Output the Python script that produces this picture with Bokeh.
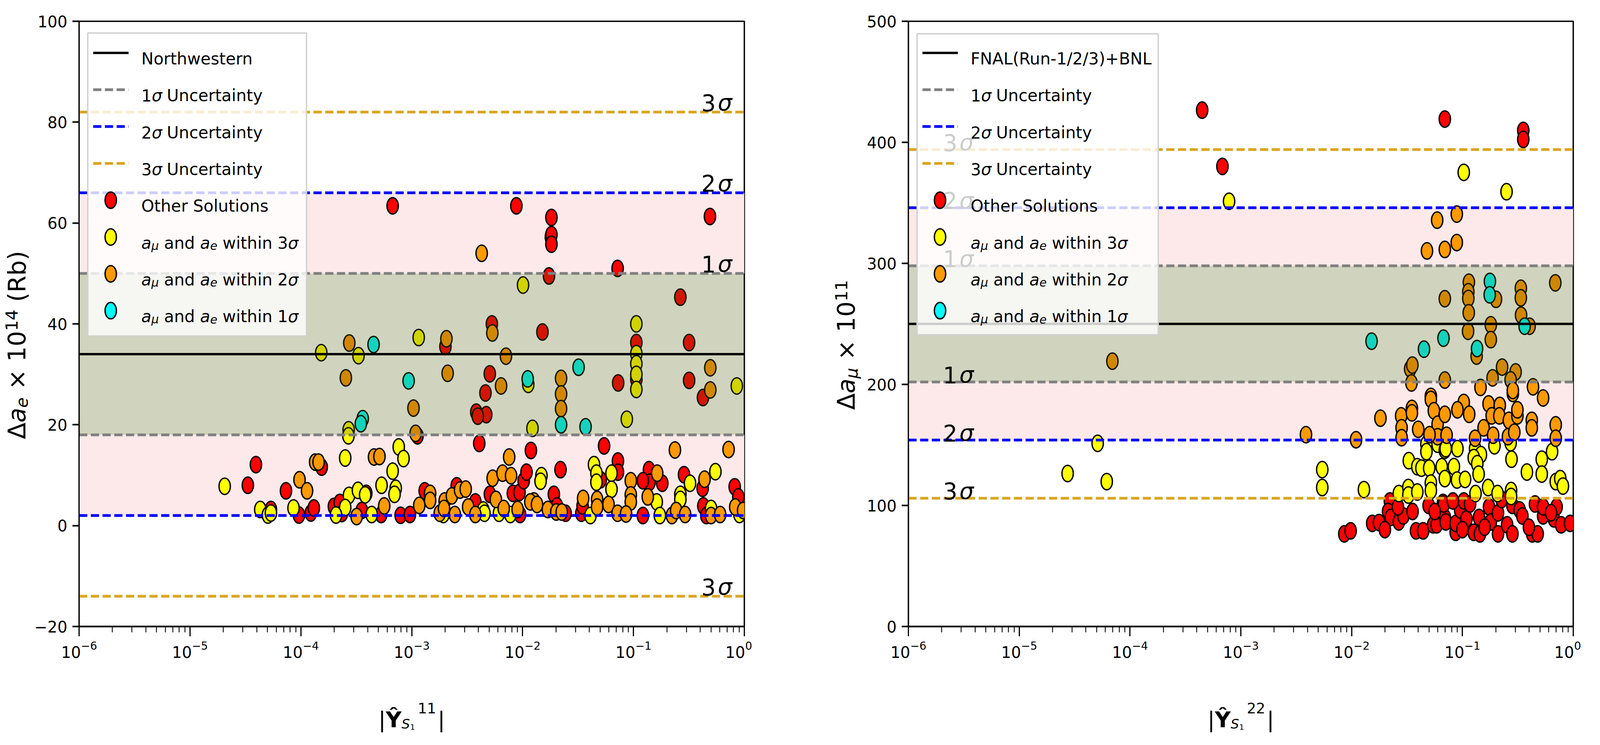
import math
from bokeh.plotting import figure
from bokeh.models import Range1d, FixedTicker, LogTickFormatter, Label
from bokeh.layouts import row, column
from bokeh.embed import file_html
from bokeh.resources import INLINE
from bokeh.core.properties import value

FONT = "DejaVu Sans"
SX = 4096 / 5917  # the photographed page is 4096 css px wide; heights are kept as in the reference

# ------------------------------------------------------------------ data
X_MIN, X_MAX = 1e-6, 1.0

# left panel: Northwestern Delta a_e (x 10^14), centre and 1 sigma
AE_CENTER, AE_SIGMA = 34.0, 16.0
# right panel: FNAL+BNL Delta a_mu (x 10^11), centre and 1 sigma
AMU_CENTER, AMU_SIGMA = 250.0, 48.0

# |Y^11| given as log10 values, Delta a_e values
L_red_lx = [-4.405, -4.478, -4.27, -4.134, -4.017, -3.910, -3.883, -3.812, -3.702, -3.649, -3.41, -3.63, -3.45,
            -3.172, -2.056, -1.74, -1.745, -1.74, -1.74, -1.762, -2.696, -2.948, -2.277, -2.296, -2.335, -2.418,
            -2.328, -2.404, -1.821, -2.391, -3.275, -3.1, -3.016, -2.883, -2.594, -2.426, -2.295, -2.088, -2.028,
            -1.99, -1.965, -1.925, -2.023, -1.718, -1.69, -1.658,
            -0.31, -1.143, -0.577, -0.498, -0.498, -1.138, -0.974, -0.974, -0.373, -1.265, -1.14, -1.14, -1.296,
            -1.47, -1.459, -1.612, -0.86, -0.855, -0.74, -0.915, -0.915, -0.544, -0.376, -0.37, -0.343, -0.087, -0.054]
L_red_y = [12.1, 8.0, 3.2, 6.9, 2.1, 2.5, 3.5, 11.6, 3.8, 4.6, 6.4, 2.4, 3.0,
           63.4, 63.4, 61.1, 57.2, 57.7, 55.8, 49.5, 35.5, 17.8, 40.0, 30.1, 26.3, 22.5,
           22.0, 21.7, 38.4, 16.3, 2.2, 2.05, 2.2, 6.9, 7.9, 4.7, 6.2, 6.4, 6.6,
           8.9, 10.6, 14.9, 2.2, 6.2, 3.9, 11.1,
           61.3, 51.0, 45.3, 36.3, 28.8, 28.3, 36.3, 29.0, 25.4, 15.8, 12.8, 10.6, 9.1,
           2.45, 3.9, 2.45, 11.1, 8.6, 8.4, 8.9, 2.0, 10.1, 7.4, 3.9, 2.0, 7.7, 5.7]

L_yel_lx = [-4.687, -4.366, -4.297, -4.27, -4.066, -3.816, -3.48, -3.569, -3.571, -3.6, -3.566, -3.485, -3.42,
            -3.6, -3.683, -3.361,
            -1.996, -2.937, -1.949, -1.911, -3.117, -3.074, -3.172, -3.272, -3.144, -3.155, -2.714, -2.355,
            -2.344, -2.17, -2.213, -2.11, -1.83, -1.838,
            -0.974, -0.974, -0.974, -0.974, -0.974, -1.06, -0.068, -1.356, -1.334, -1.334, -1.198, -1.198,
            -1.388, -0.79, -0.762, -0.577, -0.577, -0.49, -0.261, -0.3, -0.044]
L_yel_y = [7.8, 3.2, 2.1, 2.5, 3.5, 34.3, 33.7, 19.0, 17.8, 13.4, 6.0, 7.0, 6.1,
           3.6, 2.1, 2.2,
           47.7, 37.3, 28.0, 19.3, 15.6, 13.3, 10.8, 8.0, 7.4, 6.2, 2.2, 3.1,
           2.45, 3.2, 2.45, 2.2, 9.9, 8.8,
           40.0, 34.1, 32.1, 30.0, 27.0, 21.1, 27.7, 12.1, 10.4, 8.6, 10.4, 7.2,
           2.0, 4.7, 2.0, 6.2, 5.2, 8.4, 10.7, 3.4, 2.2]

L_org_lx = [-4.012, -3.944, -3.871, -3.84, -3.563, -3.594, -3.34, -3.497,
            -2.369, -2.687, -2.676, -2.984, -2.965, -2.273, -2.15, -2.194, -1.653, -1.653, -1.653, -3.291,
            -3.248, -2.932, -2.834, -2.834, -2.747, -2.703, -2.709, -2.638, -2.564, -2.513, -2.611, -2.491,
            -2.426, -2.241, -2.27, -2.181, -2.121, -2.104, -2.17, -2.045, -1.898, -1.93, -1.87, -1.772,
            -1.696, -1.647,
            -0.307, -0.307, -1.328, -1.328, -1.225, -1.454, -1.024, -1.024, -1.024, -1.143, -1.067, -0.786,
            -0.871, -0.653, -0.615, -0.534, -0.626, -0.359, -0.3, -0.218, -0.142, -0.082, -0.011]
L_org_y = [9.1, 6.9, 12.6, 12.6, 36.2, 29.3, 13.6, 1.8,
           54.0, 37.05, 30.2, 23.3, 18.3, 38.2, 33.6, 27.7, 29.2, 26.1, 23.2, 13.7,
           3.9, 4.0, 6.4, 5.0, 2.45, 4.9, 3.4, 5.9, 7.05, 7.25, 2.2, 3.7,
           2.2, 5.2, 9.4, 10.4, 13.6, 9.9, 3.4, 3.2, 4.9, 4.7, 4.2, 3.2,
           2.7, 2.7,
           31.3, 26.9, 5.2, 3.7, 4.2, 5.4, 8.9, 6.1, 4.7, 2.45, 2.3, 10.4,
           5.7, 2.0, 3.0, 2.2, 15.0, 9.2, 2.0, 2.2, 15.1, 3.7, 3.0]

L_cyn_lx = [-3.344, -3.442, -3.459, -3.028, -1.954, -1.653, -1.495, -1.432]
L_cyn_y = [35.9, 21.2, 20.2, 28.7, 29.1, 20.0, 31.4, 19.6]

# |Y^22| given as log10 values, Delta a_mu values
R_red_lx = [-3.349, -3.166, -1.159, -0.451, -0.451,
            -2.066, -2.009, -1.814, -1.753, -1.655, -1.671, -1.647, -1.574, -1.533, -1.582, -1.419, -1.354,
            -1.305, -1.264, -1.232, -1.175, -1.159,
            -1.167, -1.151, -1.061, -1.061, -1.021, -0.964, -0.988, -0.898, -0.85, -0.842, -0.76, -0.744,
            -0.679, -0.679, -0.597, -0.549, -0.549, -0.484, -0.459, -0.37, -0.321, -0.345, -0.272, -0.272,
            -0.174, -0.15, -0.109, -0.028, -1.086, -0.931, -0.646,
            -1.45, -1.7, -0.8, -0.4, -0.2, -1.25, -1.0]
R_red_y = [426.6, 380.1, 419.2, 409.8, 402.4,
           76.5, 79.0, 85.2, 85.9, 103.7, 95.0, 90.1, 86.4, 91.3, 98.8, 79.0, 79.0,
           100.0, 84.0, 84.0, 102.5, 90.1,
           101.2, 86.4, 77.8, 85.2, 96.3, 88.9, 103.7, 77.8, 90.1, 76.5, 98.8, 86.4,
           76.5, 93.8, 84.0, 76.5, 100.0, 96.3, 91.3, 76.5, 76.5, 101.2, 91.3, 98.8,
           88.9, 98.8, 84.0, 85.2, 103.7, 101.2, 104.9,
           95.0, 80.0, 82.0, 82.0, 94.0, 95.0, 80.0]

R_yel_lx = [-3.106, -4.292, -4.563, -4.21, -2.265, -2.265, -1.889, -1.484, -1.407, -1.37, -1.325, -1.325,
            -1.3, -1.285, -1.285, -1.224, -1.187, -1.159, -1.159, -1.574, -1.488, -1.488, -1.407,
            -0.988, -0.602, -1.151, -1.045, -1.077, -1.049, -0.976, -0.886, -0.833, -0.898, -0.866, -0.854,
            -0.882, -0.768, -0.711, -0.565, -0.557, -0.683, -0.561, -0.561, -0.418, -0.284, -0.284, -0.191,
            -0.158, -0.117, -0.093]
R_yel_y = [351.3, 151.3, 126.4, 119.7, 129.6, 114.8, 113.1, 137.0, 132.0, 130.8, 150.6, 144.4,
           130.8, 118.5, 112.3, 150.6, 132.0, 122.2, 145.6, 109.8, 114.8, 108.6, 111.1,
           375.2, 359.2, 146.9, 146.9, 132.1, 121.0, 121.5, 146.9, 142.0, 139.5, 134.5, 125.9,
           109.8, 114.8, 149.3, 151.8, 138.2, 109.8, 112.3, 107.4, 127.6, 138.2, 125.9, 144.4,
           119.7, 122.2, 116.0]

R_org_lx = [-4.159, -2.412, -1.96, -1.228, -1.32, -1.159, -1.159, -1.472, -1.452, -1.46, -1.159, -1.74,
            -1.553, -1.549, -1.549, -1.456, -1.456, -1.399, -1.285, -1.285, -1.258, -1.224, -1.224, -1.297,
            -1.159,
            -1.051, -1.051, -0.942, -0.947, -0.947, -0.943, -0.949, -0.697, -0.744, -0.744, -0.872, -0.473,
            -0.473, -0.471, -0.394, -0.162, -0.642, -0.52, -0.565, -0.728, -0.837, -0.545, -0.545, -0.363,
            -0.272, -0.988, -1.045, -0.939, -0.764, -0.663, -0.736, -0.667, -0.581, -0.504, -0.504, -0.374,
            -0.374, -0.158, -0.158, -0.809, -0.723, -0.886, -0.589, -0.532, -1.143]
R_org_y = [219.2, 158.5, 154.3, 335.7, 310.3, 311.5, 270.8, 212.8, 216.0, 201.2, 203.6, 172.1,
           174.0, 164.2, 156.0, 180.2, 176.5, 162.9, 190.1, 187.6, 178.2, 167.1, 156.8, 158.5,
           175.3,
           340.7, 317.2, 284.4, 276.5, 271.0, 259.2, 243.9, 270.3, 249.3, 237.0, 223.4, 279.4,
           271.5, 257.2, 248.1, 283.9, 214.3, 210.3, 203.7, 205.4, 197.5, 192.5, 195.0, 198.0,
           188.8, 185.1, 179.0, 175.3, 183.9, 182.7, 174.0, 174.0, 170.3, 174.0, 179.0, 170.3,
           164.1, 166.6, 155.5, 164.1, 158.0, 155.5, 156.8, 160.5, 158.0]

R_cyn_lx = [-1.82, -1.347, -1.171, -0.752, -0.754, -0.868, -0.439]
R_cyn_y = [235.7, 229.1, 238.2, 285.1, 274.0, 229.6, 248.1]

X_TICKS = [1e-6, 1e-5, 1e-4, 1e-3, 1e-2, 1e-1, 1.0]
L_Y_TICKS = [-20, 0, 20, 40, 60, 80, 100]
R_Y_TICKS = [0, 100, 200, 300, 400, 500]

# ------------------------------------------------------------------ styling / geometry (css px)
C_RED, C_YEL, C_ORG, C_CYN = "#ff0000", "#ffff00", "#ff9900", "#00ffff"
C_1S, C_2S, C_3S = "#808080", "#0000ff", "#daa520"
DASH = "21 9"
LW = 7

FRAME_H = 1550
FW1, FW2 = round(2460 * SX), round(2458 * SX)
B_LEFT, B_RIGHT, B_TOP, B_BOTTOM = 118, 20, 54, 110
FIG_H = B_TOP + FRAME_H + B_BOTTOM
W_Y1 = round(303 * SX) - 8 - B_LEFT
X_START2 = 8 + W_Y1 + B_LEFT + FW1 + B_RIGHT
W_Y2 = round(3370 * SX) - X_START2 - B_LEFT
XL_H = 1900 - 8 - FIG_H
MW, MH, MLW = 29, 42, 3.5  # marker ellipse size (screen px) and outline

CW = {' ': 0.318, 'N': 0.748, 'o': 0.612, 'r': 0.411, 't': 0.392, 'h': 0.634, 'w': 0.818, 'e': 0.615,
      's': 0.521, 'n': 0.634, 'U': 0.732, 'c': 0.550, 'a': 0.613, 'i': 0.278, 'y': 0.592, 'O': 0.787,
      'l': 0.278, 'u': 0.634, 'S': 0.635, 'd': 0.635, 'μ': 0.636, 'σ': 0.602, 'F': 0.575, 'A': 0.684,
      'L': 0.557, 'R': 0.695, 'B': 0.686, '(': 0.390, ')': 0.390, '-': 0.361, '/': 0.337, '+': 0.838,
      'Δ': 0.684, '×': 0.838, 'b': 0.635, '|': 0.337, 'Ŷ': 0.611}


def text_w(s, size, style):
    if style == "bold" and s == "Ŷ":
        return 0.724 * size
    return sum(CW.get(c, 0.636) for c in s) * size


def seg_total(segs):
    return sum(g + text_w(t, s, st) for t, s, st, dy, g in segs)


def place(segs, x0, y0):
    pos = 0.0
    for text, size, style, dy, gap in segs:
        pos += gap
        lead = (len(text) - len(text.lstrip(' '))) * CW[' '] * size
        t = text.strip(' ')
        yield t, size, style, x0 + pos + lead, y0 + dy, text_w(t, size, style)
        pos += text_w(text, size, style)


def rich_labels(p, x0, y0, segs):
    for t, size, style, lx, ly, w in place(segs, x0, y0):
        p.add_layout(Label(x=lx, y=ly, x_units="screen", y_units="screen", text=t,
                           text_font=FONT, text_font_size=f"{size:.1f}px", text_font_style=style,
                           text_baseline="alphabetic", text_align="left", text_color="black"))


def rich_glyphs(p, x0, y0, segs):
    for t, size, style, lx, ly, w in place(segs, x0, y0):
        p.text(x=[lx], y=[ly], text=[t], text_font=value(FONT), text_font_size=f"{size:.1f}px",
               text_font_style=style, text_baseline="alphabetic", text_align="left",
               text_color="black")


def rich_glyphs_up(p, x_center, y0, segs, main_size):
    """text reading bottom-to-top; x_center is the middle line of the main-size text."""
    x_base = x_center + 0.30 * main_size
    for t, size, style, a, dy, w in place(segs, 0.0, 0.0):
        cx = x_base - dy - 0.30 * size
        cy = y0 + a + w / 2
        p.text(x=[cx], y=[cy], text=[t], text_font=value(FONT), text_font_size=f"{size:.1f}px",
               text_font_style=style, text_baseline="middle", text_align="center",
               angle=math.pi / 2, text_color="black")


def blank_fig(w, h):
    f = figure(frame_width=w, frame_height=h, x_range=Range1d(0, w), y_range=Range1d(0, h),
               min_border=0, x_axis_location=None, y_axis_location=None,
               toolbar_location=None, output_backend="svg")
    f.grid.visible = False
    f.outline_line_color = None
    f.background_fill_color = "white"
    f.border_fill_color = "white"
    return f


def make_panel(frame_w, y_lo, y_hi, y_ticks, center, sigma, groups, legend_top_label,
               legend_box, sig_x, sig_levels, sig_dy):
    p = figure(frame_width=frame_w, frame_height=FRAME_H, x_axis_type="log",
               x_range=Range1d(X_MIN, X_MAX), y_range=Range1d(y_lo, y_hi),
               min_border_left=B_LEFT, min_border_right=B_RIGHT, min_border_top=B_TOP,
               min_border_bottom=B_BOTTOM, output_backend="svg", toolbar_location=None)
    p.grid.visible = False
    p.background_fill_color = "white"
    p.border_fill_color = "white"
    p.outline_line_color = "black"
    p.outline_line_width = 3.5

    minor = [k * d for d in X_TICKS[:-1] for k in range(2, 10)]
    p.xaxis.ticker = FixedTicker(ticks=X_TICKS, minor_ticks=minor)
    p.xaxis.formatter = LogTickFormatter()
    p.yaxis.ticker = FixedTicker(ticks=y_ticks)
    for ax in (p.xaxis[0], p.yaxis[0]):
        ax.major_label_text_font = FONT
        ax.major_label_text_font_size = "40px"
        ax.major_label_text_color = "black"
        ax.major_tick_in = 0
        ax.minor_tick_in = 0
        ax.axis_label = None
    xa, ya = p.xaxis[0], p.yaxis[0]
    xa.axis_line_width = 4
    xa.major_tick_line_width = 3
    xa.minor_tick_line_width = 2.2
    xa.major_tick_out = 25
    xa.minor_tick_out = 15
    xa.major_label_standoff = 12
    ya.axis_line_width = 3
    ya.major_tick_line_width = 4
    ya.major_tick_out = 17
    ya.major_label_standoff = 13
    ya.minor_tick_line_color = None

    # pink 2 sigma strips (outside the 1 sigma band)
    p.quad(left=X_MIN, right=X_MAX, bottom=[center - 2 * sigma, center + sigma],
           top=[center - sigma, center + 2 * sigma], fill_color="#fde9e9", line_alpha=0)

    for (lx, ys, col) in groups:
        p.ellipse(x=[10 ** v for v in lx], y=ys, width=MW, height=MH, width_units="screen",
                  height_units="screen", fill_color=col, line_color="black", line_width=MLW)

    # 1 sigma band drawn over the points
    p.quad(left=X_MIN, right=X_MAX, bottom=center - sigma, top=center + sigma,
           fill_color="#4a5600", fill_alpha=0.26, line_alpha=0)

    for k, col in ((1, C_1S), (2, C_2S), (3, C_3S)):
        p.multi_line(xs=[[X_MIN, X_MAX], [X_MIN, X_MAX]],
                     ys=[[center - k * sigma] * 2, [center + k * sigma] * 2],
                     line_color=col, line_width=LW, line_dash=DASH)
    p.line(x=[X_MIN, X_MAX], y=[center, center], line_color="black", line_width=6)

    # sigma labels
    sx = [sig_x] * len(sig_levels)
    sy = [center + k * sigma for k in sig_levels]
    p.text(x=sx, y=sy, text=[str(abs(k)) for k in sig_levels], text_font=value(FONT),
           text_font_size="58px", text_baseline="alphabetic", text_align="left",
           y_offset=sig_dy, text_color="black")
    p.text(x=sx, y=sy, text=["σ"] * len(sig_levels), text_font=value(FONT),
           text_font_size="58px", text_font_style="italic", text_baseline="alphabetic",
           text_align="left", x_offset=42, y_offset=sig_dy, text_color="black")

    # ---- legend (box drawn over the data, texts as labels on top)
    def gx(px):  # frame pixel (reference units) -> data x
        return 10 ** (math.log10(X_MIN) + (math.log10(X_MAX) - math.log10(X_MIN)) * px * SX / frame_w)

    def gy(py):  # frame pixel from top -> data y
        return y_hi - (y_hi - y_lo) * py / FRAME_H

    bl, bt, br, bb = legend_box
    p.quad(left=gx(bl), right=gx(br), top=gy(bt), bottom=gy(bb), fill_color="white",
           fill_alpha=0.8, line_color="#d0d0d0", line_width=3.5)
    rows_c = [81 + 94.3 * i for i in range(8)]
    p.line(x=[gx(52), gx(183)], y=[gy(rows_c[0])] * 2, line_color="black", line_width=6)
    for i, col in ((1, C_1S), (2, C_2S), (3, C_3S)):
        p.line(x=[gx(52), gx(183)], y=[gy(rows_c[i])] * 2, line_color=col, line_width=LW,
               line_dash=DASH)
    for i, col in ((4, C_RED), (5, C_YEL), (6, C_ORG), (7, C_CYN)):
        p.ellipse(x=[gx(117)], y=[gy(rows_c[i])], width=MW, height=MH, width_units="screen",
                  height_units="screen", fill_color=col, line_color="black", line_width=MLW)

    F, SB, D = 42, 30, -7
    rows = [
        [(legend_top_label, F, "normal", 0, 0)],
        [("1", F, "normal", 0, 0), ("σ", F, "italic", 0, 0), (" Uncertainty", F, "normal", 0, 0)],
        [("2", F, "normal", 0, 0), ("σ", F, "italic", 0, 0), (" Uncertainty", F, "normal", 0, 0)],
        [("3", F, "normal", 0, 0), ("σ", F, "italic", 0, 0), (" Uncertainty", F, "normal", 0, 0)],
        [("Other Solutions", F, "normal", 0, 0)],
    ]
    for k in (3, 2, 1):
        rows.append([("a", F, "italic", 0, 0), ("μ", SB, "italic", D, 0), (" and ", F, "normal", 0, 0),
                     ("a", F, "italic", 0, 0), ("e", SB, "italic", D, 0),
                     (f" within {k}", F, "normal", 0, 0), ("σ", F, "italic", 0, 0)])
    for i, segs in enumerate(rows):
        rich_labels(p, 230 * SX, FRAME_H - (rows_c[i] + 15), segs)
    return p


left_groups = [(L_red_lx, L_red_y, C_RED), (L_yel_lx, L_yel_y, C_YEL),
               (L_org_lx, L_org_y, C_ORG), (L_cyn_lx, L_cyn_y, C_CYN)]
right_groups = [(R_red_lx, R_red_y, C_RED), (R_yel_lx, R_yel_y, C_YEL),
                (R_org_lx, R_org_y, C_ORG), (R_cyn_lx, R_cyn_y, C_CYN)]

p1 = make_panel(FW1, -20, 100, L_Y_TICKS, AE_CENTER, AE_SIGMA, left_groups,
                "Northwestern", (32, 30, 841, 806), 0.41, [3, 2, 1, -3], -24)
p2 = make_panel(FW2, 0, 500, R_Y_TICKS, AMU_CENTER, AMU_SIGMA, right_groups,
                "FNAL(Run-1/2/3)+BNL", (32, 32, 924, 803), 2.05e-6, [3, 2, 1, -1, -2, -3], -18)

# ------------------------------------------------------------------ axis titles
FA, FSUB = 62, 43
ylab1 = blank_fig(W_Y1, FIG_H)
ylab2 = blank_fig(W_Y2, FIG_H)
y_mid = FIG_H - (B_TOP + FRAME_H / 2)

ylab_left = [("Δ", FA, "normal", 0, 0), ("a", FA, "italic", 0, 0), ("e", FSUB, "italic", -7, 0),
             (" × 10", FA, "normal", 0, 0), ("14", FSUB, "normal", 19, 0), (" (Rb)", FA, "normal", 0, 0)]
ylab_right = [("Δ", FA, "normal", 0, 0), ("a", FA, "italic", 0, 0), ("μ", FSUB, "italic", -7, 0),
              (" × 10", FA, "normal", 0, 0), ("11", FSUB, "normal", 19, 0)]
rich_glyphs_up(ylab1, 73 * SX - 8, y_mid - seg_total(ylab_left) / 2, ylab_left, FA)
rich_glyphs_up(ylab2, 3141 * SX - X_START2, y_mid - seg_total(ylab_right) / 2, ylab_right, FA)

TOTAL_W = W_Y1 + B_LEFT + FW1 + B_RIGHT + W_Y2 + B_LEFT + FW2 + B_RIGHT
xlab = blank_fig(TOTAL_W, XL_H)


def xsegs(sup):
    return [("|", 56, "normal", 0, 0), ("Ŷ", 56, "bold", 0, 0), ("S", 34, "italic", -11.5, 0),
            ("1", 20, "normal", -20, 0), (sup, 37, "normal", 28.5, 7), ("|", 56, "normal", 0, 4)]


x_base = XL_H - (1849.5 - (8 + FIG_H))
c1 = W_Y1 + B_LEFT + FW1 / 2
c2 = X_START2 - 8 + W_Y2 + B_LEFT + FW2 / 2
for c, sup in ((c1, "11"), (c2, "22")):
    segs = xsegs(sup)
    rich_glyphs(xlab, c - seg_total(segs) / 2, x_base, segs)

layout = column(row(ylab1, p1, ylab2, p2), xlab)
open("out.html", "w").write(file_html(layout, INLINE))
